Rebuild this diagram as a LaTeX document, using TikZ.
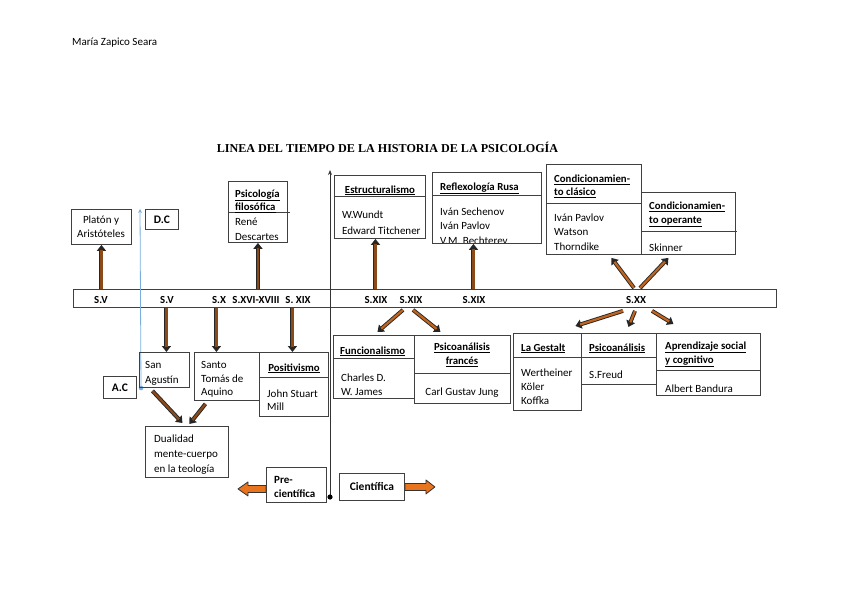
\documentclass[tikz,border=0pt]{standalone}
\usepackage{fontspec}
\setmainfont{Carlito}
\newfontfamily\titlefont{Liberation Serif}
\usetikzlibrary{arrows.meta,calc}
\definecolor{brn}{HTML}{8B4A1A}
\definecolor{brn2}{HTML}{C0641E}
\definecolor{org}{HTML}{E8741E}
\definecolor{bl}{HTML}{7AAEDD}
\newcommand\brarr[3][brn]{%
  \draw[brout] #2 -- #3;
  \draw[brin,draw=#1] #2 -- #3;}
\begin{document}
\begin{tikzpicture}[x=1pt,y=-1pt,
  box/.style={draw=black!75, line width=0.9pt, inner sep=0pt, anchor=north west},
  txt/.style={font=\fontsize{11}{14.5}\selectfont, inner sep=0pt, anchor=north west, align=left, yshift=-4.5pt, execute at begin node=\strut},
  hd/.style={txt, font=\fontsize{10.8}{13.5}\selectfont\bfseries},
  lab/.style={font=\fontsize{10.8}{12}\selectfont\bfseries, inner sep=0pt},
  divline/.style={draw=black!75, line width=0.9pt},
  brout/.style={draw=black!85, line width=4pt, -{Triangle[length=6pt,width=9pt]}},
  brin/.style={line width=2.2pt, shorten >=5pt},
  blockarr/.style={draw=black!80, line width=0.8pt, fill=org, line join=round},
]
\useasboundingbox (0,0) rectangle (848,599);

% header and title
\node[font=\fontsize{11}{12}\selectfont, inner sep=0pt, anchor=west] (author) at (72,43) {María Zapico Seara};
\node[font=\titlefont\fontsize{12.1}{14}\selectfont\bfseries, inner sep=0pt] (title) at (387.5,147) {LINEA DEL TIEMPO DE LA HISTORIA DE LA PSICOLOGÍA};

% timeline bar
\node[box, minimum width=703pt, minimum height=18pt] (bar) at (73,289) {};
\node[lab] (sv1) at (101,299.5) {S.V};
\node[lab] (sv2) at (167,299.5) {S.V};
\node[lab] (sx) at (219,299.5) {S.X};
\node[lab] (sxvi) at (256,299.5) {S.XVI-XVIII};
\node[lab] (sxix0) at (298,299.5) {S. XIX};
\node[lab] (sxix1) at (376,299.5) {S.XIX};
\node[lab] (sxix2) at (411,299.5) {S.XIX};
\node[lab] (sxix3) at (474,299.5) {S.XIX};
\node[lab] (sxx) at (636,299.5) {S.XX};

% vertical era lines
\coordinate (bluetop) at (140,209);
\coordinate (bluebot) at (141,388);
\draw[bl, line width=0.8pt, -{Stealth[length=4pt,width=4pt]}] (bluebot) -- (bluetop);
\fill[bl] (bluebot) circle (2.3);
\coordinate (blacktop) at (330,170);
\coordinate (blackbot) at (330,497);
\draw[black!80, line width=0.9pt, -{Stealth[length=5pt,width=4pt]}] (blackbot) -- (blacktop);
\fill[black] (blackbot) circle (2.6);

% upper boxes
\node[box, minimum width=60pt, minimum height=35pt] (platon) at (71,209) {};
\node[txt, anchor=north, align=center] (platon-t) at (101,211) {Platón y\\Aristóteles};

\node[box, minimum width=33pt, minimum height=20pt] (dc) at (145,209) {};
\node[lab, font=\fontsize{11.5}{12}\selectfont\bfseries] (dc-t) at (dc.center) {D.C};

\node[box, minimum width=59pt, minimum height=61pt] (psic) at (228,181) {};
\draw[divline] (228,212) -- (290,212);
\node[hd] (psic-h) at (235,185) {\underline{Psicología}\\\underline{filosófica}};
\node[txt, font=\fontsize{11}{15}\selectfont] (psic-b) at (235,213.5) {René\\Descartes};

\node[box, minimum width=91pt, minimum height=63pt] (estr) at (334,175) {};
\draw[divline] (334,196) -- (425,196);
\node[hd, anchor=north] (estr-h) at (380,179) {\underline{Estructuralismo}};
\node[txt, font=\fontsize{11}{16}\selectfont] (estr-b) at (342,206) {W.Wundt\\Edward Titchener};

\node[box, minimum width=109pt, minimum height=71pt] (refl) at (432,172) {};
\draw[divline] (432,195) -- (541,195);
\node[hd] (refl-h) at (440,176) {\underline{Reflexología Rusa}};
\begin{scope}
\clip (432,172) rectangle (541,242);
\node[txt] (refl-b) at (440,203) {Iván Sechenov\\Iván Pavlov\\V.M. Bechterev};
\end{scope}

\node[box, minimum width=95pt, minimum height=90pt] (cclas) at (546,164) {};
\draw[divline] (546,203) -- (641,203);
\node[hd] (cclas-h) at (554,170) {\underline{Condicionamien-}\\\underline{to clásico}};
\node[txt] (cclas-b) at (554,209) {Iván Pavlov\\Watson\\Thorndike};

\node[box, minimum width=94pt, minimum height=62pt] (coper) at (641,192) {};
\draw[divline] (641,231) -- (737,231);
\node[hd, font=\fontsize{10.8}{14}\selectfont\bfseries] (coper-h) at (649,197) {\underline{Condicionamien-}\\\underline{to operante}};
\node[txt] (coper-b) at (649,237) {Skinner};

% lower boxes
\node[box, minimum width=50pt, minimum height=35pt] (sag) at (139,352) {};
\node[txt] (sag-t) at (145,357) {San\\Agustín};

\node[box, minimum width=33pt, minimum height=22pt] (ac) at (103,376) {};
\node[lab, font=\fontsize{11.5}{12}\selectfont\bfseries] (ac-t) at (ac.center) {A.C};

\node[box, minimum width=65pt, minimum height=48pt] (stomas) at (194,352) {};
\node[txt, font=\fontsize{11}{13.5}\selectfont] (stomas-t) at (201,357) {Santo\\Tomás de\\Aquino};

\node[box, minimum width=69pt, minimum height=64pt] (posit) at (259,352) {};
\draw[divline] (259,377) -- (328,377);
\node[hd, anchor=north] (posit-h) at (294,357) {\underline{Positivismo}};
\node[txt, font=\fontsize{11}{13.5}\selectfont] (posit-b) at (267,385) {John Stuart\\Mill};

\node[box, minimum width=83pt, minimum height=51pt] (dual) at (145,426) {};
\node[txt, font=\fontsize{11}{15}\selectfont] (dual-t) at (154,430) {Dualidad\\mente-cuerpo\\en la teología};

\node[box, minimum width=81pt, minimum height=63pt] (func) at (333,335) {};
\draw[divline] (333,358) -- (414,358);
\node[hd] (func-h) at (340,340) {\underline{Funcionalismo}};
\node[txt, font=\fontsize{11}{14}\selectfont] (func-b) at (341,369) {Charles D.\\W. James};

\node[box, minimum width=96pt, minimum height=68pt] (pfr) at (414,335) {};
\draw[divline] (414,373) -- (510,373);
\node[hd, anchor=north, align=center, font=\fontsize{10.8}{14}\selectfont\bfseries] (pfr-h) at (462,338) {\underline{Psicoanálisis}\\\underline{francés}};
\node[txt, anchor=north, align=center] (pfr-b) at (462,381) {Carl Gustav Jung};

\node[box, minimum width=68pt, minimum height=77pt] (gest) at (513,333) {};
\draw[divline] (513,357) -- (581,357);
\node[hd] (gest-h) at (521,337) {\underline{La Gestalt}};
\node[txt, font=\fontsize{11}{14}\selectfont] (gest-b) at (521,364) {Wertheiner\\Köler\\Koffka};

\node[box, minimum width=75pt, minimum height=51pt] (psa) at (581,333) {};
\draw[divline] (581,357) -- (656,357);
\node[hd] (psa-h) at (589,337) {\underline{Psicoanálisis}};
\node[txt] (psa-b) at (589,364) {S.Freud};

\node[box, minimum width=104pt, minimum height=62pt] (apr) at (656,333) {};
\draw[divline] (656,370) -- (760,370);
\node[hd, font=\fontsize{10.8}{14}\selectfont\bfseries] (apr-h) at (665,337) {\underline{Aprendizaje social}\\\underline{y cognitivo}};
\node[txt] (apr-b) at (665,378) {Albert Bandura};

% era boxes
\node[box, minimum width=60pt, minimum height=35pt] (pre) at (266,467) {};
\node[hd, font=\fontsize{11}{14}\selectfont\bfseries] (pre-t) at (274,472) {Pre-\\científica};
\node[box, minimum width=65pt, minimum height=27pt] (cien) at (339,473) {};
\node[lab, font=\fontsize{11.5}{12}\selectfont\bfseries] (cien-t) at (cien.center) {Científica};

\draw[blockarr] ($(pre.west)+(0,0.5)$) -- ++(-18,0) -- ++(0,-3.5) -- ++(-10,7) -- ++(10,7) -- ++(0,-3.5) -- ++(18,0) -- cycle;
\draw[blockarr] ($(cien.east)+(0,-3.5)$) -- ++(21,0) -- ++(0,-3.5) -- ++(9,7) -- ++(-9,7) -- ++(0,-3.5) -- ++(-21,0) -- cycle;

% connectors: upwards
\brarr{(platon.south |- bar.north)}{(platon.south)}
\brarr{(psic.south |- bar.north)}{(psic.south)}
\brarr{($(estr.south |- bar.north)+(-4.5,0)$)}{($(estr.south)+(-4.5,0)$)}
\brarr{($(refl.south |- bar.north)+(-13.5,0)$)}{($(refl.south)+(-13.5,0)$)}
% downwards
\brarr{($(sag.north |- bar.south)+(2,0)$)}{($(sag.north)+(2,0)$)}
\brarr{($(stomas.north |- bar.south)+(-10.5,0)$)}{($(stomas.north)+(-10.5,0)$)}
\brarr{($(posit.north |- bar.south)+(-1.5,0)$)}{($(posit.north)+(-1.5,0)$)}
% diagonals
\brarr[brn2]{($(bar.south -| sxix2)+(-8,2)$)}{($(func.north)+(3.5,-3)$)}
\brarr[brn2]{($(bar.south -| sxix2)+(2,2)$)}{($(pfr.north)+(-22,-3)$)}
\brarr[brn2]{($(bar.north -| sxx)+(-2,-1)$)}{($(cclas.south)+(17.5,3)$)}
\brarr[brn2]{($(bar.north -| sxx)+(4,-1)$)}{($(coper.south)+(-20,3)$)}
\brarr[brn2]{($(bar.south -| sxx)+(-13,3)$)}{($(gest.north)+(28,-7)$)}
\brarr[brn2]{($(bar.south -| sxx)+(-1,3)$)}{($(psa.north)+(9.5,-6)$)}
\brarr[brn2]{($(bar.south -| sxx)+(16,3)$)}{($(apr.north)+(-35,-9)$)}
\brarr{($(sag.south)+(-12,3)$)}{($(dual.north)+(-4.5,-3)$)}
\brarr{($(stomas.south)+(-21.5,3)$)}{($(dual.north)+(2.5,-2)$)}
\end{tikzpicture}
\end{document}
